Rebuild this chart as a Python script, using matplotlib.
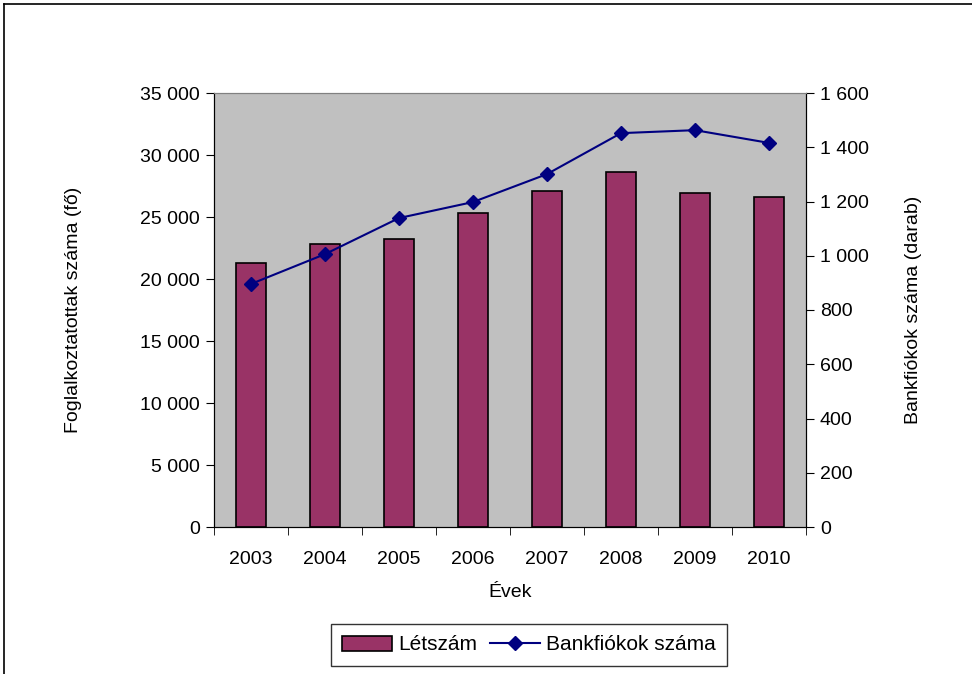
import matplotlib
matplotlib.use("Agg")
import matplotlib.pyplot as plt
from matplotlib.ticker import FuncFormatter, MultipleLocator, FixedLocator
from matplotlib.lines import Line2D

plt.rcParams['font.family'] = ['Liberation Sans', 'DejaVu Sans']

years = ['2003', '2004', '2005', '2006', '2007', '2008', '2009', '2010']
letszam = [21300, 22800, 23200, 25300, 27100, 28600, 26900, 26600]
bankfiokok = [896, 1006, 1139, 1198, 1301, 1452, 1463, 1416]

FS = 14

fig = plt.figure(figsize=(9.72, 6.74), dpi=100)
ax = fig.add_axes([214/972, 1-527/674, (806-214)/972, (527-93)/674])
ax.set_facecolor('#C0C0C0')

x = list(range(len(years)))
ax.bar(x, letszam, width=0.4, color='#993366', edgecolor='black', linewidth=1.2,
       label='Létszám', zorder=2)
ax.set_xlim(-0.5, len(years) - 0.5)
ax.set_ylim(0, 35000)
ax.yaxis.set_major_locator(MultipleLocator(5000))
fmt = FuncFormatter(lambda v, p: f"{int(v):,}".replace(',', ' '))
ax.yaxis.set_major_formatter(fmt)
ax.set_xticks(x)
ax.set_xticklabels(years)
ax.xaxis.set_minor_locator(FixedLocator([i - 0.5 for i in range(len(years) + 1)]))
ax.tick_params(axis='x', which='major', length=0, pad=17, labelsize=FS)
ax.tick_params(axis='x', which='minor', length=6, direction='out', color='black')
ax.tick_params(axis='y', length=6, direction='out', labelsize=FS, pad=4)
ax.set_xlabel('Évek', fontsize=FS, labelpad=12)
ax.set_ylabel('Foglalkoztatottak száma (fő)', fontsize=FS, labelpad=42)
for s in ['left', 'bottom', 'right']:
    ax.spines[s].set_color('black')
ax.spines['top'].set_color('#808080')

ax2 = ax.twinx()
ax2.plot(x, bankfiokok, color='#000080', marker='D', markersize=7, linewidth=1.5,
         label='Bankfiókok száma', zorder=3)
ax2.set_ylim(0, 1600)
ax2.yaxis.set_major_locator(MultipleLocator(200))
ax2.yaxis.set_major_formatter(fmt)
ax2.tick_params(axis='y', length=6, direction='out', labelsize=FS, pad=4)
ax2.set_ylabel('Bankfiókok száma (darab)', fontsize=FS, labelpad=26)
for s in ['left', 'bottom', 'right']:
    ax2.spines[s].set_color('black')
ax2.spines['top'].set_color('#808080')

h1, l1 = ax.get_legend_handles_labels()
h2, l2 = ax2.get_legend_handles_labels()
leg = fig.legend(h1 + h2, l1 + l2, loc='center', bbox_to_anchor=(529/972, 1-645/674),
                 ncol=2, frameon=True, fancybox=False, edgecolor='black',
                 fontsize=15, handlelength=2.4, columnspacing=0.6, handletextpad=0.3,
                 borderpad=0.55)
leg.get_frame().set_linewidth(1.0)

# outer chart frame
fig.add_artist(Line2D([4/972, 1.0], [1-4/674, 1-4/674], transform=fig.transFigure,
                      color='black', linewidth=1.2))
fig.add_artist(Line2D([4/972, 4/972], [0, 1-4/674], transform=fig.transFigure,
                      color='black', linewidth=1.2))

fig.savefig('out.png', dpi=100)
